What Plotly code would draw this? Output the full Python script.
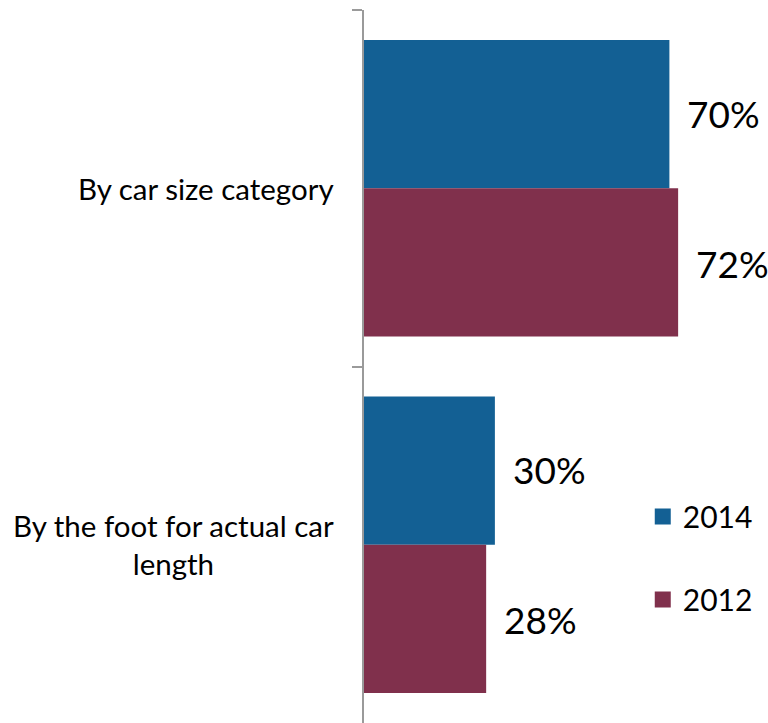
import plotly.graph_objects as go

categories = ["By car size category", "By the foot for actual car<br>length"]
series_names = ["2014", "2012"]
values_2014 = [70, 30]
values_2012 = [72, 28]
colors = ["#136094", "#80304C"]

FONT = "Lato"

fig = go.Figure()
for name, vals, col in zip(series_names, [values_2014, values_2012], colors):
    fig.add_trace(go.Bar(
        y=categories, x=vals, name=name, orientation="h",
        marker=dict(color=col, line=dict(width=0)),
        showlegend=False,
    ))
    # larger square swatches for the legend
    fig.add_trace(go.Scatter(
        x=[None], y=[None], mode="markers", name=name,
        marker=dict(symbol="square", size=21, color=col),
        legendgroup=name,
    ))

annotations = []
# value labels to the right of each bar
for i, (vals, offset) in enumerate([(values_2014, -0.21), (values_2012, 0.21)]):
    for c, v in enumerate(vals):
        annotations.append(dict(
            x=v, y=c + offset, xref="x", yref="y",
            text=f"{v}%", showarrow=False, xanchor="left", xshift=16,
            font=dict(family=FONT, size=37, color="#000000"),
        ))
# category labels, centred multi-line text left of the axis
for c, cat in enumerate(categories):
    annotations.append(dict(
        x=0, y=c, xref="paper", yref="y", text=cat, showarrow=False,
        xanchor="right", xshift=-28, align="center",
        font=dict(family=FONT, size=29.5, color="#000000"),
    ))

fig.update_layout(
    width=768, height=723,
    margin=dict(l=364, r=0, t=10, b=0),
    paper_bgcolor="white", plot_bgcolor="white",
    barmode="group", bargap=0.168, bargroupgap=0,
    font=dict(family=FONT, color="#000000"),
    xaxis=dict(range=[0, 92.6], visible=False),
    yaxis=dict(
        range=[1.5, -0.5], showline=True, linecolor="#9a9a9a", linewidth=2,
        ticks="outside", tickson="boundaries", ticklen=10, tickwidth=2,
        tickcolor="#9a9a9a", showticklabels=False, showgrid=False, zeroline=False,
    ),
    legend=dict(
        x=0.69, xanchor="left", y=0.326, yanchor="top",
        font=dict(family=FONT, size=30, color="#000000"),
        tracegroupgap=41, bgcolor="rgba(0,0,0,0)",
    ),
    annotations=annotations,
)

fig.write_html("out.html")
